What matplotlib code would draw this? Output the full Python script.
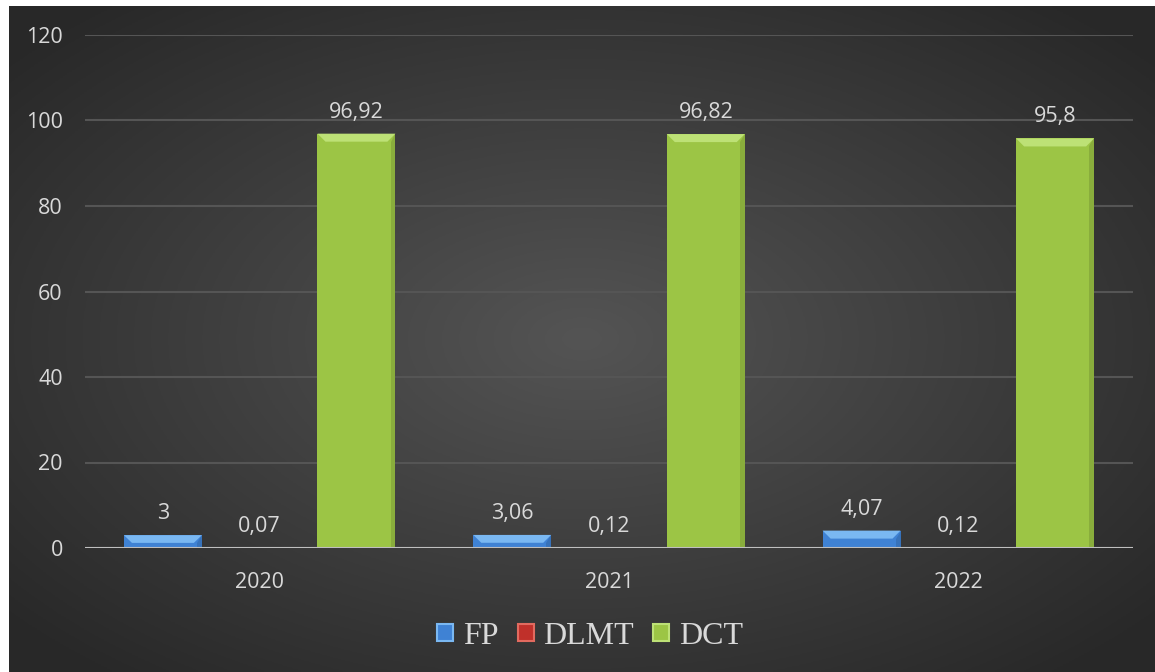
import numpy as np
import matplotlib
matplotlib.use('Agg')
from matplotlib import pyplot as plt
from matplotlib.patches import Polygon, Patch

years = ['2020', '2021', '2022']
series_names = ['FP', 'DLMT', 'DCT']
fp_vals = [3, 3.06, 4.07]
dlmt_vals = [0.07, 0.12, 0.12]
dct_vals = [96.92, 96.82, 95.8]
y_ticks = [0, 20, 40, 60, 80, 100, 120]

body_colors = ['#3f82d4', '#c0302a', '#9cc545']
bevel_colors = ['#7ab8f2', '#e26a5f', '#bde176']

txt_col = '#d9d9d9'

fig = plt.figure(figsize=(11.55, 6.72), dpi=100)
fig.patch.set_facecolor('white')

# radial dark-gray backdrop
bg = fig.add_axes([9 / 1155, 0, 1 - 9 / 1155, 1 - 6 / 672])
gx, gy = np.meshgrid(np.linspace(-1, 1, 400), np.linspace(-1, 1, 240))
r = np.clip(np.sqrt(gx ** 2 + gy ** 2) / 1.3, 0, 1)
shade = 0.33 - 0.17 * r
bg.imshow(np.dstack([shade, shade, shade]), aspect='auto', extent=[0, 1, 0, 1])
bg.set_axis_off()

ax = fig.add_axes([85 / 1155, 1 - 548 / 672, (1133 - 85) / 1155, (548 - 35) / 672])
ax.patch.set_alpha(0)

x = np.arange(len(years))
width = 0.223
step = 0.277
px_x = 3 / 1048  # data units per pixel, horizontally
px_y = 120 / 513  # data units per pixel, vertically

for i, (name, vals) in enumerate(zip(series_names, [fp_vals, dlmt_vals, dct_vals])):
    pos = x + (i - 1) * step
    bars = ax.bar(pos, vals, width, color=body_colors[i], zorder=3)
    for b, v in zip(bars, vals):
        x0, x1 = b.get_x(), b.get_x() + b.get_width()
        bh = min(8 * px_y, v * 0.6)
        bw = 8 * px_x
        ax.add_patch(Polygon([(x0, v), (x1, v), (x1 - bw, v - bh), (x0 + bw, v - bh)],
                             closed=True, color=bevel_colors[i], lw=0, zorder=4))
        # darker strip on the right side
        ax.add_patch(Polygon([(x1, v), (x1, 0), (x1 - bw * 0.6, 0), (x1 - bw * 0.6, v - bh)],
                             closed=True, color='black', alpha=0.12, lw=0, zorder=4))
        ax.annotate(f'{v:g}'.replace('.', ','), (b.get_x() + b.get_width() / 2, v),
                    xytext=(0, 11.5), textcoords='offset points', ha='center',
                    va='baseline', fontsize=15.5, color=txt_col, family='Open Sans')

ax.set_xlim(-0.5, 2.5)
ax.set_ylim(0, 120)
ax.set_yticks(y_ticks)
ax.set_xticks(x)
ax.set_xticklabels(years)
ax.grid(axis='y', color='#555555', lw=1.5, zorder=0)
ax.axhline(0, color='#bfbfbf', lw=1.5, zorder=5)
for s in ax.spines.values():
    s.set_visible(False)
ax.tick_params(length=0, colors=txt_col, labelsize=15.5)
ax.tick_params(axis='y', pad=16)
ax.tick_params(axis='x', pad=17)
for lab in ax.get_xticklabels() + ax.get_yticklabels():
    lab.set_family('Open Sans')

handles = [Patch(facecolor=body_colors[i], edgecolor=bevel_colors[i], lw=1.5) for i in range(3)]
leg = fig.legend(handles, series_names, loc='center', bbox_to_anchor=(590 / 1155, 1 - 636 / 672),
                 ncol=3, frameon=False, prop={'family': 'Liberation Serif', 'size': 23},
                 handlelength=0.5, handleheight=0.45, handletextpad=0.3, columnspacing=0.6)
for t in leg.get_texts():
    t.set_color(txt_col)

fig.savefig('out.png', dpi=100)
